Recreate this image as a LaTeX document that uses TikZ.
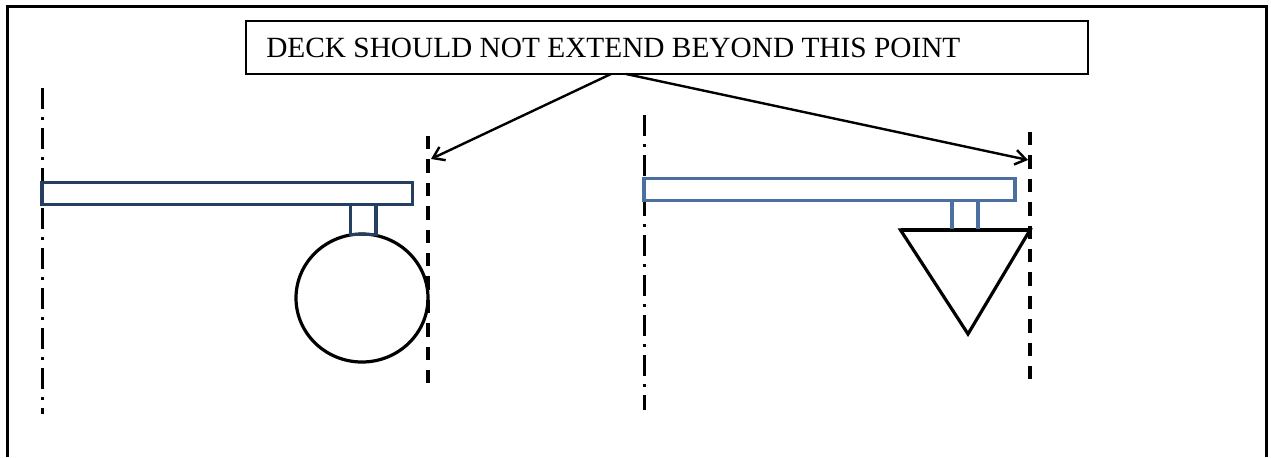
\documentclass[tikz,border=0pt]{standalone}
\usepackage{fontspec}
\setmainfont{Liberation Serif}
\usetikzlibrary{arrows.meta}
\definecolor{deckdark}{HTML}{243F60}
\definecolor{decklight}{HTML}{4A6FA0}
\tikzset{
  x=0.75pt,y=-0.75pt,
  framebox/.style={draw=black,line width=2.4pt},
  labelbox/.style={draw=black,line width=1pt,fill=white},
  centerline/.style={draw=black,line width=1.9pt,dash pattern=on 16pt off 6pt on 2pt off 6pt},
  limitline/.style={draw=black,line width=2.4pt,dash pattern=on 10pt off 7.55pt},
  pointer/.style={draw=black,line width=1.8pt,-{Straight Barb[length=8pt,width=11pt,line width=1.8pt]}},
  deckdarkbar/.style={draw=deckdark,line width=2.3pt},
  decklightbar/.style={draw=decklight,line width=2.3pt},
  outline/.style={draw=black,line width=2.4pt},
}
\begin{document}
\begin{tikzpicture}
\useasboundingbox (0,0) rectangle (1271,457);
\fill[white] (0,0) rectangle (1271,457);
\draw[framebox] (7.5,457) -- (7.5,6.5) -- (1266.5,6.5) -- (1266.5,457);
% label
\draw[labelbox] (246,21) rectangle (1088,74);
\node[anchor=base west,inner sep=0pt,font=\fontsize{22}{24}\selectfont] (label) at (266,57) {DECK SHOULD NOT EXTEND BEYOND THIS POINT};
\coordinate (la) at (611,74);
\coordinate (lb) at (626,74);
% centre lines
\coordinate (c1a) at (42.5,88); \coordinate (c1b) at (42.5,414);
\coordinate (c2a) at (644.5,115); \coordinate (c2b) at (644.5,410);
\draw[centerline] (c1a) -- (c1b);
\draw[centerline] (c2a) -- (c2b);
% limit lines
\coordinate (l1a) at (428,136); \coordinate (l1b) at (428,383);
\coordinate (l2a) at (1030,132); \coordinate (l2b) at (1030,379);
\draw[limitline] (l1a) -- (l1b);
\draw[limitline] (l2a) -- (l2b);
% pointers
\coordinate (p1) at (431,159);
\coordinate (p2) at (1028,160);
\draw[pointer] (la) -- (p1);
\draw[pointer] (lb) -- (p2);
% left assembly
\draw[outline] (362,298) ellipse [x radius=66,y radius=64];
\draw[deckdarkbar] (350.5,204.5) rectangle (376,234.5);
\draw[deckdarkbar] (42,182.5) rectangle (412.5,204.5);
% right assembly
\draw[outline] (900.5,230) -- (1030,230) -- (968,334) -- cycle;
\draw[black,line width=2.8pt] (900.5,230) -- (1030,230);
\draw[decklightbar] (952,200.5) -- (952,229);
\draw[decklightbar] (978,200.5) -- (978,229);
\draw[decklightbar] (644,178.5) rectangle (1015,200.5);
\end{tikzpicture}
\end{document}
